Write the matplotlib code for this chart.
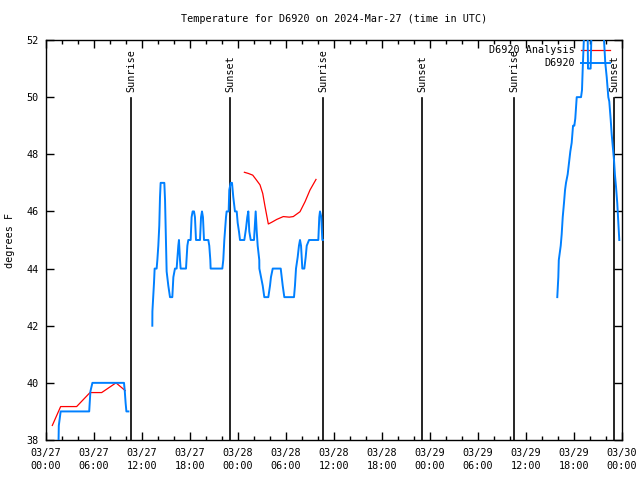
import numpy as np
import matplotlib
matplotlib.use("Agg")
import matplotlib.pyplot as plt
from matplotlib.ticker import MultipleLocator, FixedLocator

# Hours since 2024-03-27 00:00 UTC
obs_hours = [
    1.54, 1.6, 1.83, 5.4, 5.55, 5.8, 9.75, 9.85, 9.95, 10.05, 10.3,
    np.nan,
    13.29, 13.30, 13.5, 13.58, 13.83, 13.92, 14.04, 14.16, 14.25, 14.33, 14.79,
    14.88, 15.0, 15.08, 15.29, 15.5, 15.79, 15.92, 16.12, 16.33, 16.54, 16.62,
    16.75, 16.83, 17.5, 17.67, 17.79, 18.08, 18.2, 18.33, 18.5, 18.62, 18.75,
    19.25, 19.38, 19.5, 19.62, 19.75, 20.29, 20.41, 20.54, 20.58, 22.04, 22.16,
    22.29, 22.5, 22.58, 22.83, 22.91, 23.09, 23.25, 23.41, 23.62, 23.84, 23.96,
    24.12, 24.25, 24.79, 25.0, 25.16, 25.29, 25.41, 25.59, 26.0, 26.21, 26.34,
    26.46, 26.66, 26.67, 27.09, 27.29, 27.79, 28.0, 28.12, 28.34, 29.34, 29.46,
    29.59, 29.79, 31.0, 31.12, 31.25, 31.46, 31.62, 31.75, 31.88, 32.04, 32.29,
    32.46, 32.59, 32.88, 34.04, 34.16, 34.25, 34.41, 34.54, 34.62,
    np.nan,
    63.91, 64.04, 64.1, 64.34, 64.46, 64.59, 64.75, 64.88, 65.0, 65.21, 65.38,
    65.54, 65.71, 65.88, 66.04, 66.16, 66.34, 66.88, 67.0, 67.09, 67.3, 67.7,
    67.75, 68.08, 68.2, 69.65, 69.91, 70.09, 70.29, 70.41, 70.59, 70.71, 70.84,
    71.0, 71.12, 71.25, 71.41, 71.59, 71.66,
]
obs_temps = [
    37.5, 38.5, 39.0, 39.0, 39.7, 40.0, 40.0, 39.7, 39.3, 39.0, 39.0,
    np.nan,
    42.0, 42.5, 43.5, 44.0, 44.0, 44.3, 44.8, 45.5, 46.5, 47.0, 47.0,
    46.4, 44.8, 43.9, 43.4, 43.0, 43.0, 43.7, 44.0, 44.0, 44.8, 45.0,
    44.3, 44.0, 44.0, 44.8, 45.0, 45.0, 45.8, 46.0, 46.0, 45.8, 45.0,
    45.0, 45.8, 46.0, 45.8, 45.0, 45.0, 44.8, 44.3, 44.0, 44.0, 44.3,
    45.0, 45.8, 46.0, 46.0, 46.75, 47.0, 47.0, 46.5, 46.0, 46.0, 45.6,
    45.3, 45.0, 45.0, 45.4, 45.8, 46.0, 45.3, 45.0, 45.0, 46.0, 45.3,
    44.8, 44.3, 44.0, 43.4, 43.0, 43.0, 43.4, 43.7, 44.0, 44.0, 43.7,
    43.4, 43.0, 43.0, 43.4, 44.0, 44.4, 44.8, 45.0, 44.8, 44.0, 44.0,
    44.4, 44.8, 45.0, 45.0, 45.8, 46.0, 45.8, 45.0, 45.0,
    np.nan,
    43.0, 43.7, 44.3, 44.8, 45.2, 45.8, 46.3, 46.75, 47.0, 47.3, 47.7,
    48.1, 48.4, 49.0, 49.0, 49.25, 50.0, 50.0, 50.25, 51.0, 52.5, 52.5,
    51.0, 51.0, 52.5, 52.5, 51.2, 50.7, 50.0, 49.85, 49.2, 48.7, 48.3,
    47.8, 47.27, 46.87, 46.28, 45.35, 45.0,
]

ana_hours = [
    0.79, 1.83, 3.83, 5.5, 6.96, 8.75, 9.9,
    np.nan,
    24.8, 25.29, 25.84, 26.25, 26.75, 27.09, 27.38, 27.79, 28.21, 28.84,
    29.66, 30.41, 30.91, 31.75, 32.38, 33.0, 33.75,
]
ana_temps = [
    38.51, 39.17, 39.17, 39.66, 39.66, 40.0, 39.73,
    np.nan,
    47.37, 47.33, 47.27, 47.12, 46.93, 46.63, 46.17, 45.56, 45.62, 45.72,
    45.82, 45.80, 45.82, 45.99, 46.34, 46.75, 47.12,
]

sun_hours = [10.63, 23.05, 34.62, 47.04, 58.55, 71.0]
sun_labels = ["Sunrise", "Sunset", "Sunrise", "Sunset", "Sunrise", "Sunset"]

tick_hours = [0, 6, 12, 18, 24, 30, 36, 42, 48, 54, 60, 66, 72]
tick_labels = ["03/27\n00:00", "03/27\n06:00", "03/27\n12:00", "03/27\n18:00",
               "03/28\n00:00", "03/28\n06:00", "03/28\n12:00", "03/28\n18:00",
               "03/29\n00:00", "03/29\n06:00", "03/29\n12:00", "03/29\n18:00",
               "03/30\n00:00"]

FONT = "DejaVu Sans Mono"
FS = 7.3
plt.rcParams['font.family'] = [FONT]

fig = plt.figure(figsize=(6.4, 4.8), dpi=100)
ax = fig.add_axes([46/640, 1-440/480, 576/640, 400/480])

BLUE = "#0080ff"
ax.plot(ana_hours, ana_temps, color="red", lw=0.9, zorder=3)
ax.plot(obs_hours, obs_temps, color=BLUE, lw=1.4, zorder=3)

for h, lab in zip(sun_hours, sun_labels):
    ax.plot([h, h], [38, 49.97], color="black", lw=1.2, zorder=2)
    ax.text(h, 0.87, lab, transform=ax.get_xaxis_transform(), rotation=90,
            ha="center", va="bottom", fontsize=FS, family=FONT)

ax.set_xlim(0, 72)
ax.set_ylim(38, 52)
ax.xaxis.set_major_locator(FixedLocator(tick_hours))
ax.set_xticklabels(tick_labels, linespacing=1.35)
ax.xaxis.set_minor_locator(MultipleLocator(2))
ax.yaxis.set_major_locator(MultipleLocator(2))
ax.tick_params(which="both", direction="in", top=True, right=True,
               labelsize=FS, width=1)
ax.tick_params(which="major", length=6, pad=6)
ax.tick_params(which="minor", length=3)
ax.tick_params(axis="y", pad=5)
for s in ax.spines.values():
    s.set_linewidth(1.0)

fig.text(10/640, 0.5, "degrees F", rotation=90, ha="center", va="center",
         fontsize=FS, family=FONT)
fig.text(334/640, 1-19/480, "Temperature for D6920 on 2024-Mar-27 (time in UTC)",
         ha="center", va="center", fontsize=FS, family=FONT)

# legend (manual, gnuplot style)
ax.text(0.918, 0.975, "D6920 Analysis", transform=ax.transAxes, ha="right",
        va="center", fontsize=FS, family=FONT)
ax.text(0.918, 0.9425, "D6920", transform=ax.transAxes, ha="right",
        va="center", fontsize=FS, family=FONT)
ax.plot([0.929, 0.979], [0.975, 0.975], color="red", lw=0.9,
        transform=ax.transAxes, clip_on=False)
ax.plot([0.929, 0.979], [0.9425, 0.9425], color=BLUE, lw=1.4,
        transform=ax.transAxes, clip_on=False)

fig.savefig("out.png", dpi=100)
